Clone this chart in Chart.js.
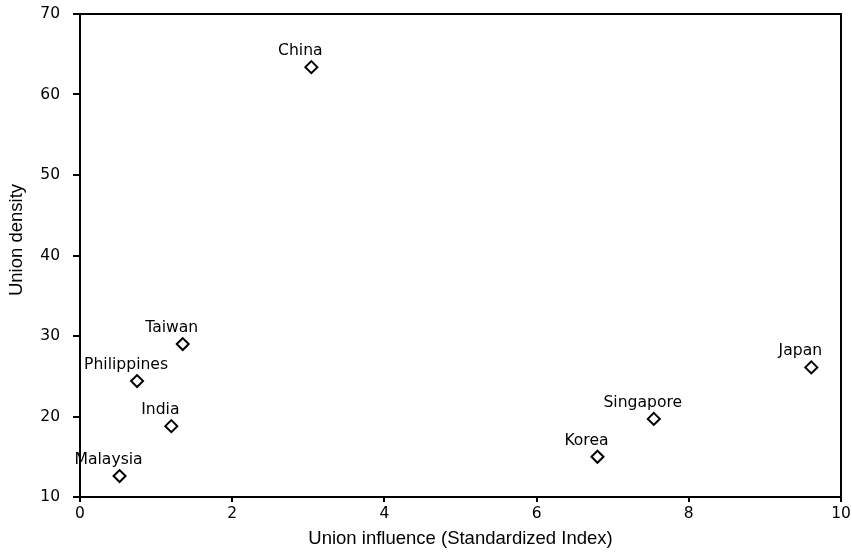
<!DOCTYPE html>
<html>
<head>
<meta charset="utf-8">
<script src="https://cdn.jsdelivr.net/npm/chart.js@4.4.1/dist/chart.umd.min.js"></script>
<style>
    html, body { margin: 0; padding: 0; background: #fff; }
    #wrap { width: 852px; height: 553px; position: relative; }
</style>
</head>
<body>
<div id="wrap"><canvas id="unionChart"></canvas></div>
<script>
// Union influence vs. union density by country
const countries = ['China', 'Taiwan', 'Philippines', 'India', 'Malaysia', 'Korea', 'Singapore', 'Japan'];
const influence = [3.04, 1.35, 0.75, 1.20, 0.52, 6.80, 7.54, 9.61];
const density = [63.4, 29.0, 24.4, 18.8, 12.6, 15.0, 19.7, 26.1];
const xTicks = [0, 2, 4, 6, 8, 10];
const yTicks = [10, 20, 30, 40, 50, 60, 70];

const tickFont = { family: "'DejaVu Sans', Verdana, sans-serif", size: 15.5 };
const titleFont = { family: "'Liberation Sans', Arial, sans-serif", size: 18.5 };

// box round the plot, y title and the point labels
const decorations = {
    id: 'decorations',
    afterDraw(chart) {
        const { ctx, chartArea: a } = chart;
        ctx.save();
        ctx.strokeStyle = '#000';
        ctx.lineWidth = 2;
        ctx.strokeRect(a.left, a.top, a.right - a.left, a.bottom - a.top);

        ctx.fillStyle = '#000';
        ctx.font = `${titleFont.size}px ${titleFont.family}`;
        ctx.textAlign = 'center';
        ctx.textBaseline = 'middle';
        ctx.translate(17, 240);
        ctx.rotate(-Math.PI / 2);
        ctx.fillText('Union density', 0, 0);
        ctx.restore();

        ctx.save();
        ctx.fillStyle = '#000';
        ctx.font = `15.6px ${tickFont.family}`;
        ctx.textAlign = 'center';
        ctx.textBaseline = 'middle';
        chart.getDatasetMeta(0).data.forEach((pt, i) => {
            ctx.fillText(countries[i], pt.x - 11, pt.y - 16);
        });
        ctx.restore();
    }
};

new Chart(document.getElementById('unionChart'), {
    type: 'scatter',
    data: {
        datasets: [{
            data: influence.map((x, i) => ({ x: x, y: density[i] })),
            pointStyle: 'rectRot',
            pointRadius: 6,
            pointBorderWidth: 2,
            borderColor: '#000',
            backgroundColor: '#fff'
        }]
    },
    options: {
        responsive: true,
        maintainAspectRatio: false,
        animation: false,
        layout: { padding: { top: 14, right: 11, left: 0, bottom: 0 } },
        plugins: { legend: { display: false }, tooltip: { enabled: false } },
        scales: {
            x: {
                type: 'linear',
                min: 0,
                max: 10,
                afterBuildTicks: s => { s.ticks = xTicks.map(v => ({ value: v })); },
                afterFit: s => { s.height = 56; s.paddingLeft = 0; s.paddingRight = 0; },
                border: { color: '#000', width: 2 },
                grid: { drawOnChartArea: false, color: '#000', lineWidth: 2, tickLength: 5 },
                ticks: { color: '#000', font: tickFont, padding: 3, maxRotation: 0 },
                title: {
                    display: true,
                    text: 'Union influence (Standardized Index)',
                    color: '#000',
                    font: titleFont,
                    padding: { top: 0, bottom: 3 }
                }
            },
            y: {
                type: 'linear',
                min: 10,
                max: 70,
                afterBuildTicks: s => { s.ticks = yTicks.map(v => ({ value: v })); },
                afterFit: s => { s.width = 80; s.paddingTop = 0; s.paddingBottom = 0; },
                border: { color: '#000', width: 2 },
                grid: { drawOnChartArea: false, color: '#000', lineWidth: 2, tickLength: 7 },
                ticks: { color: '#000', font: tickFont, padding: 13 }
            }
        }
    },
    plugins: [decorations]
});
</script>
</body>
</html>
